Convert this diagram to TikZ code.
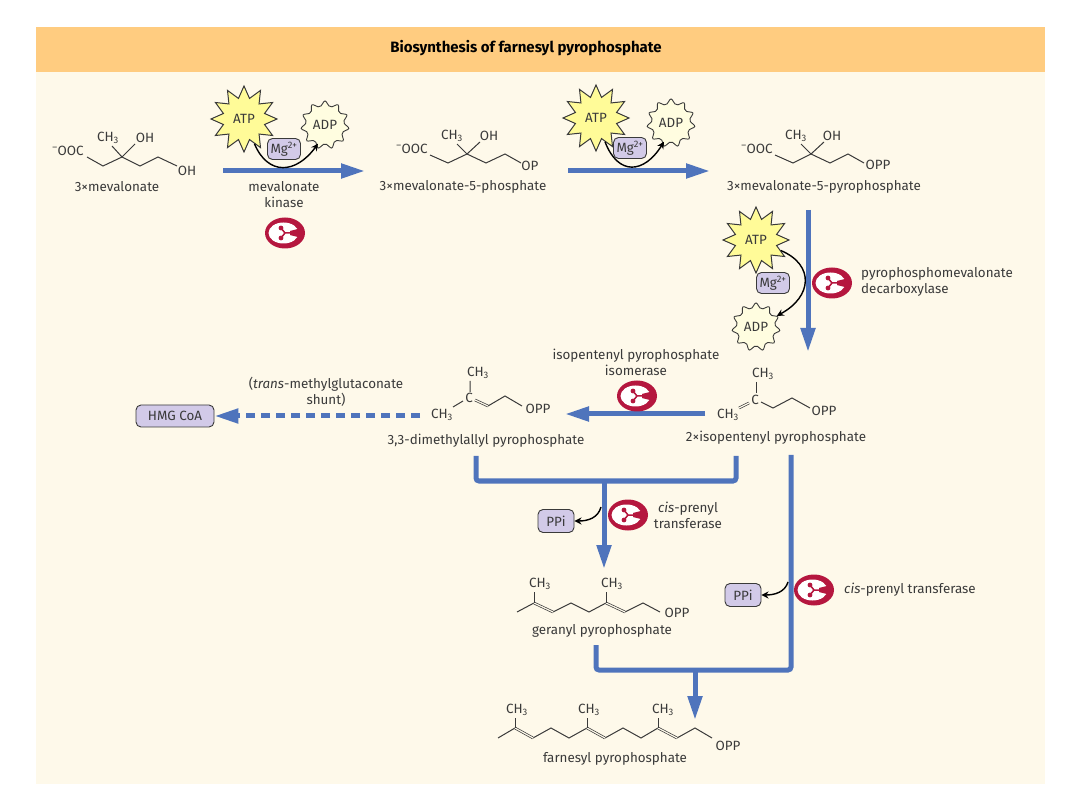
\documentclass[tikz,border=0pt]{standalone}
\usepackage{fontspec}
\setmainfont{Fira Sans}
\usetikzlibrary{positioning, arrows.meta, shapes.geometric, calc}
\usepackage{xcolor}
\definecolor{paper}{HTML}{FEF9EA}
\definecolor{banner}{HTML}{FFCC80}
\definecolor{flowblue}{HTML}{4F74BC}
\definecolor{ink}{HTML}{3A3A3A}
\definecolor{atpyellow}{HTML}{FFFB98}
\definecolor{adpcream}{HTML}{FFFDE0}
\definecolor{boxlilac}{HTML}{D2CAE8}
\definecolor{enzred}{HTML}{B5173F}

\begin{document}
\begin{tikzpicture}[x=1pt, y=-1pt,
    every node/.style={text=ink, font=\fontsize{13.4}{16}\selectfont, inner sep=0pt},
    bond/.style={ink, line width=1pt},
    dblbond/.style={ink, line width=0.7pt, double=paper, double distance=1.2pt},
    flow/.style={flowblue, line width=5pt, -{Triangle[length=24pt, width=14pt]}},
    trunk/.style={flowblue, line width=5pt, rounded corners=3pt},
    cofactor/.style={black, line width=1.4pt, -{Stealth[length=7pt, width=7pt]}},
    atpstar/.style={draw=ink, fill=atpyellow, line width=1pt, star, star points=12, star point ratio=1.55, minimum size=66pt},
    adpstar/.style={draw=ink, fill=adpcream, line width=0.9pt, star, star points=11, star point ratio=1.38, rounded corners=2pt, minimum size=50pt},
    ionbox/.style={draw=ink, fill=boxlilac, line width=0.9pt, rounded corners=5pt, minimum width=33pt, minimum height=21pt},
    enzyme/.pic={
      \fill[enzred] (0,0) ellipse (20 and 15.5);
      \fill[white] (-1.5,0) ellipse (15 and 10.5);
      \fill[enzred] (18.5,-5.5) -- (5,-2) -- (5,2) -- (18.5,5.5) -- cycle;
      \draw[enzred, line width=1.5pt] (6,0) -- (0,0) (-4,-5) -- (0,0) -- (-4,5);
      \fill[enzred] (-4,-5) circle (2.4) (-4,5) circle (2.4);
    }]
  \useasboundingbox (0,0) rectangle (1080,810);

  % background panels
  \fill[paper] (36,72) rectangle (1045,784);
  \fill[banner] (36,27) rectangle (1045,72);
  \node[font=\fontsize{15}{16}\selectfont\bfseries, text=black] (title) at (526,48) {Biosynthesis of farnesyl pyrophosphate};

  % mevalonate
  \node (mvacoo) at (68,151) {\textsuperscript{--}OOC};
  \node (mvach3) at (108,138) {CH\textsubscript{3}};
  \node (mvaoh) at (145,138) {OH};
  \node (mvaohb) at (187,171) {OH};
  \draw[bond] (87,157) -- (103,166) -- (122,157) -- (140,166) -- (158,157) -- (177,166);
  \draw[bond] (122,157) -- (112,146) (122,157) -- (135,144);
  \node (mvalab) at (117,187) {3×mevalonate};

  % mevalonate-5-phosphate
  \node (mvpcoo) at (412,149) {\textsuperscript{--}OOC};
  \node (mvpch3) at (452,136) {CH\textsubscript{3}};
  \node (mvpoh) at (489,136) {OH};
  \node (mvpop) at (530,166) {OP};
  \draw[bond] (430,155) -- (448,163) -- (467,154) -- (486,163) -- (505,154) -- (521,163);
  \draw[bond] (467,154) -- (457,144) (467,154) -- (480,142);
  \node (mvplab) at (463,187) {3×mevalonate-5-phosphate};

  % mevalonate-5-pyrophosphate
  \node (mvppcoo) at (757,149) {\textsuperscript{--}OOC};
  \node (mvppch3) at (796,136) {CH\textsubscript{3}};
  \node (mvppoh) at (832,136) {OH};
  \node (mvppopp) at (878,165) {OPP};
  \draw[bond] (775,155) -- (793,163) -- (811,154) -- (830,163) -- (848,154) -- (864,163);
  \draw[bond] (811,154) -- (801,144) (811,154) -- (824,142);
  \node (mvpplab) at (824,187) {3×mevalonate-5-pyrophosphate};

  % isopentenyl pyrophosphate
  \node (ipch3top) at (763,374) {CH\textsubscript{3}};
  \node (ipc) at (755,400) {C};
  \node (ipch3) at (728,415) {CH\textsubscript{3}};
  \node (ipopp) at (824,411) {OPP};
  \draw[bond] (756,382) -- (756,393);
  \draw[dblbond] (749,403) -- (739,408);
  \draw[bond] (761,402) -- (773,408) -- (792,398) -- (810,408);
  \node (iplab) at (776,438) {2×isopentenyl pyrophosphate};

  % dimethylallyl pyrophosphate
  \node (dmach3top) at (478,373) {CH\textsubscript{3}};
  \node (dmac) at (469,398) {C};
  \node (dmach3) at (442,415) {CH\textsubscript{3}};
  \node (dmaopp) at (538,409) {OPP};
  \draw[bond] (470,381) -- (470,392) (463,401) -- (453,407);
  \draw[dblbond] (475,400) -- (488,406);
  \draw[bond] (488,406) -- (505,396) -- (522,406);
  \node (dmalab) at (486,441) {3,3-dimethylallyl pyrophosphate};

  % geranyl pyrophosphate
  \node (gerch3a) at (540,584) {CH\textsubscript{3}};
  \node (gerch3b) at (612,584) {CH\textsubscript{3}};
  \node (geropp) at (677,613) {OPP};
  \draw[bond] (517,612) -- (534,603) (553,612) -- (571,603) -- (589,612) -- (606,603) (625,612) -- (643,603) -- (660,612);
  \draw[dblbond] (534,603) -- (553,612);
  \draw[dblbond] (606,603) -- (625,612);
  \draw[bond] (534,603) -- (534,592) (606,603) -- (606,592);
  \node (gerlab) at (602,631) {geranyl pyrophosphate};

  % farnesyl pyrophosphate
  \node (farch3a) at (517,710) {CH\textsubscript{3}};
  \node (farch3b) at (589,710) {CH\textsubscript{3}};
  \node (farch3c) at (663,710) {CH\textsubscript{3}};
  \node (faropp) at (728,746) {OPP};
  \draw[bond] (498,738) -- (515,728) (533,738) -- (551,728) -- (569,738) -- (587,728) (605,738) -- (623,728) -- (641,738) -- (658,728) (677,738) -- (695,728) -- (712,738);
  \draw[dblbond] (515,728) -- (533,738);
  \draw[dblbond] (587,728) -- (605,738);
  \draw[dblbond] (658,728) -- (677,738);
  \draw[bond] (515,728) -- (515,718) (587,728) -- (587,718) (658,728) -- (658,718);
  \node (farlab) at (615,759) {farnesyl pyrophosphate};

  % step 1
  \coordinate (stepa) at (223,171);
  \coordinate (stepb) at (365,171);
  \draw[flow] (stepa) -- (stepb);
  \node[atpstar] (atpa) at (244,119) {ATP};
  \node[adpstar] (adpa) at (325,125) {ADP};
  \draw[cofactor] (atpa) .. controls (268,176) and (296,174) .. ([xshift=-7pt]adpa.south);
  \node[ionbox] (mga) at (284,149) {Mg\textsuperscript{2+}};
  \node[align=center] (kinase) at (284,195) {mevalonate\\kinase};
  \pic at (285,233) {enzyme};

  % step 2
  \coordinate (stepc) at (568,171);
  \coordinate (stepd) at (710,171);
  \draw[flow] (stepc) -- (stepd);
  \node[atpstar] (atpb) at (596,118) {ATP};
  \node[adpstar] (adpb) at (671,123) {ADP};
  \draw[cofactor] (atpb) .. controls (618,176) and (644,174) .. ([xshift=-7pt]adpb.south);
  \node[ionbox] (mgb) at (630,148) {Mg\textsuperscript{2+}};

  % step 3
  \coordinate (stepe) at (808,210);
  \coordinate (stepf) at (808,352);
  \draw[flow] (stepe) -- (stepf);
  \node[atpstar] (atpc) at (756,240) {ATP};
  \node[adpstar] (adpc) at (756,327) {ADP};
  \draw[cofactor] (atpc) .. controls (815,265) and (812,297) .. (adpc);
  \node[ionbox] (mgc) at (773,283) {Mg\textsuperscript{2+}};
  \pic at (832,283) {enzyme};
  \node[align=left, anchor=west] (decarb) at (861,282) {pyrophosphomevalonate\\decarboxylase};

  % isomerase and shunt
  \coordinate (stepg) at (705,414);
  \coordinate (steph) at (565,414);
  \draw[flow] (stepg) -- (steph);
  \pic at (637,396) {enzyme};
  \node[align=center] (isomerase) at (636,362) {isopentenyl pyrophosphate\\isomerase};
  \node[draw=ink, fill=boxlilac, line width=0.9pt, rounded corners=5pt, minimum width=78pt, minimum height=22pt] (hmg) at (175,416) {HMG CoA};
  \coordinate (shunta) at (420,416);
  \draw[flow, dash pattern=on 9pt off 6pt] (shunta) -- (hmg.east);
  \node[align=center] (shunt) at (326,392) {(\textit{trans}-methylglutaconate\\shunt)};

  % first condensation
  \coordinate (dmadown) at (476,456);
  \coordinate (ipdown) at (736,456);
  \coordinate (joina) at (604,481);
  \coordinate (gerin) at (604,569);
  \draw[trunk] (dmadown) |- (ipdown |- joina) -- (ipdown);
  \draw[flow] (joina) -- (gerin);
  \pic at (628,515) {enzyme};
  \node[align=center] (cisa) at (688,515) {\textit{cis}-prenyl\\transferase};
  \node[ionbox, minimum width=36pt, minimum height=23pt] (ppia) at (556,521) {PPi};
  \coordinate (ppiafrom) at (601,507);
  \draw[cofactor] (ppiafrom) .. controls (598,518) and (588,521) .. (ppia);

  % second condensation
  \coordinate (ipright) at (791,455);
  \coordinate (gerdown) at (596,645);
  \coordinate (joinb) at (695,670);
  \coordinate (farin) at (695,720);
  \draw[trunk] (ipright) |- (gerdown |- joinb) -- (gerdown);
  \draw[flow] (joinb) -- (farin);
  \pic at (814,590) {enzyme};
  \node (cisb) at (910,590) {\textit{cis}-prenyl transferase};
  \node[ionbox, minimum width=36pt, minimum height=23pt] (ppib) at (743,595) {PPi};
  \coordinate (ppibfrom) at (788,582);
  \draw[cofactor] (ppibfrom) .. controls (785,592) and (775,595) .. (ppib);
\end{tikzpicture}
\end{document}
